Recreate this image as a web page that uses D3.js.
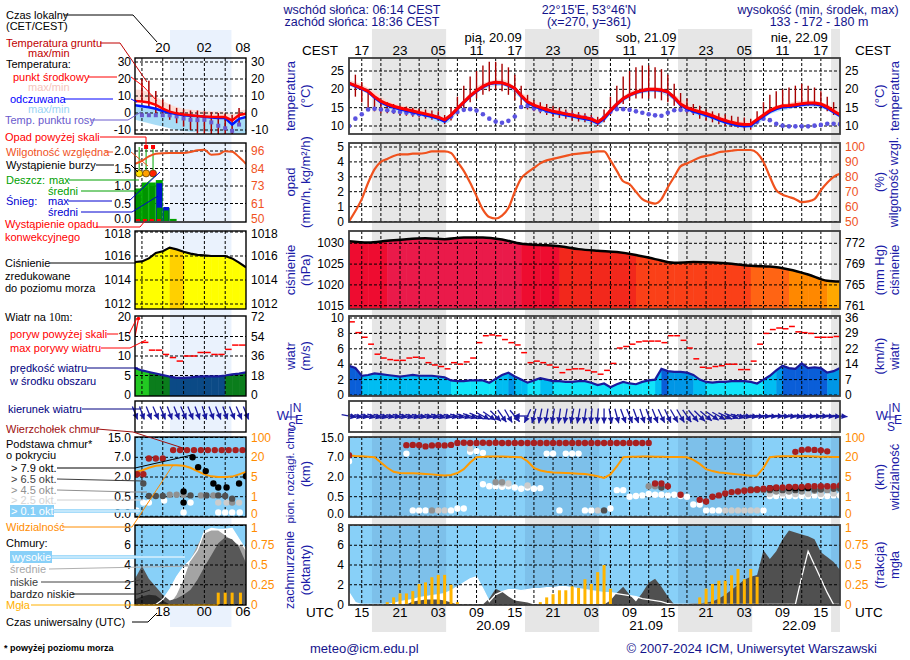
<!DOCTYPE html>
<html><head><meta charset="utf-8">
<script src="https://cdn.jsdelivr.net/npm/d3@7/dist/d3.min.js"></script>
<style>
html,body{margin:0;padding:0;background:#fff;}
svg{display:block;}
text{font-family:"Liberation Sans",Arial,Helvetica,sans-serif;}
</style></head>
<body><svg id="chart" width="910" height="660"></svg>
<script>
// ================= DATA (hour index 0 = 19.09 13:00 UTC, hourly) =================
const tempMid = [21.7,21.0,20.3,19.5,18.0,16.8,16.0,15.4,14.9,14.5, 14.1,13.7,13.3,12.9,12.4,11.7,13.0,14.8,16.5,18.2, 19.6,20.8,21.6,21.9,21.8,21.2,20.3,18.3,16.6,15.7, 15.1,14.5,14.0,13.7,13.3,13.0,12.6,12.3,11.9,11.1, 12.3,14.2,16.0,17.5,18.5,19.2,19.7,20.0,20.0,19.8, 19.3,17.8,16.0,15.0,14.4,13.9,13.4,12.8,12.1,11.5, 11.0,10.6,10.4,10.5,11.8,13.0,14.2,15.0,15.5,15.6, 15.8,16.1,16.3,16.3,16.0,15.2,14.1,13.1];
const tempFeels = [21.6,20.9,20.2,19.4,17.8,16.5,15.7,15.1,14.6,14.2, 13.8,13.4,13.0,12.6,12.1,11.3,12.8,14.7,16.4,18.1, 19.5,20.7,21.5,21.8,21.7,21.1,20.2,18.2,16.4,15.5, 14.8,14.2,13.7,13.4,13.0,12.7,12.3,12.0,11.6,10.8, 12.0,14.0,15.9,17.4,18.4,19.1,19.6,19.9,19.9,19.7, 19.2,17.7,15.8,14.7,14.0,13.5,13.0,12.4,11.7,11.1, 10.6,10.2,10.0,10.1,11.5,12.7,13.9,14.7,15.2,15.3, 15.5,15.8,16.0,16.0,15.7,14.9,13.8,12.8];
const dewPoint = [10.0,12.0,13.2,14.5,14.7,14.5,14.3,14.0,13.8,13.6, 13.4,13.2,13.0,12.7,12.3,11.6,12.6,13.8,14.4,14.6, 14.2,13.2,12.0,11.2,10.9,11.4,12.6,15.2,15.5,14.8, 14.4,14.1,13.8,13.6,13.3,13.0,12.6,12.3,11.9,11.1, 12.3,13.9,14.6,14.6,14.4,14.0,13.6,13.2,12.9,12.8, 13.6,14.3,14.4,14.3,14.0,13.6,13.1,12.5,11.9,11.3, 10.8,10.4,10.2,10.2,11.2,12.0,11.6,10.6,10.1,9.9, 9.9,9.9,9.9,10.1,10.3,10.6,10.6,10.5];
const groundMax = [25.5,24.0,22.0,20.0,18.0,17.0,16.5,16.0,15.5,15.3, 15.0,14.8,14.5,14.2,14.0,13.0,15.0,18.0,21.0,23.5, 25.0,26.5,27.5,27.5,27.0,26.0,24.0,21.0,18.5,17.0, 16.5,16.0,15.5,15.0,14.5,14.2,13.8,13.5,13.0,12.5, 14.5,18.0,21.0,23.5,25.0,26.0,26.5,26.5,26.0,25.5, 24.0,21.5,19.0,17.5,16.0,15.5,14.5,14.0,13.5,13.2, 12.8,12.5,12.3,12.0,14.0,16.5,18.5,19.5,20.0,20.5, 21.0,21.5,21.0,20.5,19.5,18.0,16.5,15.0];
const groundMin = [17.5,18.0,16.5,14.5,14.0,13.5,13.5,13.3,13.0,12.8, 12.5,12.3,12.0,11.7,11.5,10.5,11.5,13.0,15.0,16.5, 17.5,18.5,19.5,20.0,19.5,18.5,17.0,15.5,14.5,14.0, 13.5,13.0,12.5,12.2,12.0,11.5,11.2,11.0,10.5,10.0, 11.0,13.0,14.5,16.0,17.0,17.5,17.5,17.5,17.5,17.0, 16.5,15.5,14.5,13.5,13.0,12.0,11.5,11.0,10.5,10.0, 9.8,9.5,9.3,9.0,10.5,12.5,14.0,14.5,15.0,15.0, 15.5,15.5,15.5,15.5,15.0,14.0,13.0,12.0];
// 3-hourly series
const idx3 = [0,3,6,9,12,15,18,21,24,27,30,33,36,39,42,45,48,51,54,57,60,63,66,69,72,75,77];
const tempBandHi = [22.6,20.4,16.9,15.3,14.1,12.4,17.3,21.7,22.7,19.2,15.9,14.5,13.4,11.9,16.8,20.0,20.7,18.6,15.2,13.6,11.8,11.3,14.9,16.3,17.0,15.9,13.8];
const tempBandLo = [21.3,19.1,15.6,14.1,12.9,11.3,16.1,20.4,21.4,17.9,14.7,13.3,12.2,10.7,15.6,18.8,19.6,17.4,14.0,12.4,10.6,10.1,13.8,15.2,15.9,14.8,12.7];
const feelsBandLo = [20.9,18.7,15.0,13.5,12.3,10.6,15.8,20.1,21.0,17.5,14.1,12.7,11.6,10.1,15.2,18.5,19.3,17.0,13.3,11.7,9.9,9.4,13.2,14.6,15.3,14.2,12.1];
const pressure = [1030.5,1030.2,1030.6,1031.0,1031.2,1031.0,1031.4,1031.4,1030.9,1029.9,1029.6,1029.3,1028.6,1028.2,1027.9,1027.2,1026.2,1025.3,1025.5,1025.4,1025.1,1024.6,1024.4,1023.7,1022.5,1021.0,1020.8];
const relHum = [50,57,65,76,85,90,92,94,95,95, 95.5,95.5,96,97,97,97,96,90,84,76, 67,58,53,52,54,59,70,79,83,86, 89,91,92,93,94,95,95.5,96,96.5,97, 97,91,84,77,75,70,65,63,62,65, 73,80,87,89,91,93,94,95,96.5,97, 97.5,98,98,98,96,90,80,71,68,66.5, 65,63,63.5,65,71,76,80,82];
const windSpeed = [3.8,3.5,2.5,2.6,2.8,2.7,2.6,2.5,2.4,2.5, 2.6,2.5,2.5,2.5,2.4,2.3,1.9,1.8,1.8,1.9, 1.9,1.9,1.6,2.1,2.6,2.9,2.4,2.0,1.6,1.9, 2.2,2.0,1.8,1.8,1.7,1.7,1.8,1.8,1.6,1.3, 1.5,1.0,1.4,1.7,1.5,1.4,1.7,1.9,2.0,3.4, 3.1,3.0,3.0,2.9,2.6,2.0,1.7,1.6,1.7,1.7, 1.8,1.8,1.8,1.7,1.5,2.0,2.5,3.2,3.8,3.5, 3.4,4.1,3.5,3.6,3.5,2.9,3.1,3.5];
const windGust = [9.5,8.1,7.5,6.6,5.3,4.8,4.6,4.5,4.5,4.8, 4.9,4.8,4.2,3.9,3.7,3.4,4.2,4.0,4.3,4.8, 6.8,7.7,7.8,7.7,7.2,6.8,6.5,5.5,4.2,4.4, 4.2,3.9,3.6,2.9,3.3,3.4,3.4,3.2,3.0,2.7, 3.2,4.1,6.1,6.3,6.6,6.9,7.0,7.0,7.0,6.8, 7.7,7.7,7.1,6.1,4.7,3.6,3.5,3.7,3.8,4.0, 4.0,3.3,3.3,4.4,6.6,8.0,8.5,8.7,8.6,8.9, 8.2,8.1,8.0,7.5,7.5,7.5,7.6];
const windDir = [280,282,280,283,285,283,282,280,282,284, 283,282,281,283,285,283,282,284,286,288, 292,298,305,315,325,330,320,90,25,15, 12,10,10,8,10,12,10,8,5,5, 0,350,345,340,338,340,342,340,338,335, 335,330,330,325,320,315,310,305,300,295, 290,285,280,278,276,275,275,274,275,276, 278,277,276,275,274,275,276,275];
const visibility = [27,25,24,22,20,16,12,9,8,7.8, 7.8,7.6,7.3,7,6.5,6.2,6.5,8,11,16, 20,22,23,23.5,23,22.5,21.5,20.5,17,12, 10,9,8.5,8.3,8,7.8,7.5,7.3,6.5,5.5, 4.8,7,13,20,22,22.5,23,23,22.5,22, 21.5,21.5,21,20,18,15,11,9.5,8.5,8, 7.5,7,6.5,6,6.2,12,20,23,24,24.5, 24.5,24,24,23,22.5,22,21.5,21];
const cloudHigh = [1.2,0.2,0,0,0,0,0,0.1,0.3,0.4, 0.5,0.7,0.8,0.9,1.0,1.1,1.4,1.8,2.2,2.6, 2.8,1.6,0.3,1.0,1.3,1.5,1.5,1.4,1.5,1.6, 1.6,1.7,1.7,1.8,1.8,1.7,1.6,1.5,1.4,1.3, 1.2,1.2,1.1,1.0,0.9,0.8,0.6,0.5,0.4,0.3, 0.1,0,0,0,0,0,0,0,0,0, 0,0,0,0,0,0,0,0,0,0, 0,2.8,5.4,4.0,2.6,1.2,0,0];
const cloudLow = [0,0,0,0,0,0,0,0,0,0, 0.3,0.4,0.5,0.5,0.5,0.4,0.2,0,0,0, 0,0,0.6,1.6,1.3,0.8,0.4,0.3,0.2,0, 0,0,0,0,0,0,0,0,0,0, 0,0.4,1.2,1.8,1.0,0.3,1.2,2.2,2.6,1.8, 0.8,0,0,0.05,0.1,0.1,0.2,0.3,0.6,1.0, 1.5,2.0,2.5,2.8,3.0,5.5,4.6,5.4,6.6,7.5, 7.3,7.1,6.9,6.6,5.3,4.8,4.3,3.5];
const fogIdx = [6,7,8,9,10,11,12,13,14,15,16,17, 30,31,32,33,34,35,36,37,38,39,40,41, 55,56,57,58,59,60,61,62,63,64];
const fogVal = [0.03,0.09,0.14,0.14,0.17,0.26,0.28,0.345,0.375,0.375,0.25,0.03, 0.03,0.09,0.13,0.18,0.18,0.23,0.21,0.32,0.26,0.41,0.5,0.2, 0.09,0.2,0.26,0.3,0.3,0.37,0.45,0.32,0.45,0.35];
// cloud dots: [hour index, km]
const cloudTop = [[0,7.8],[9,11.9],[10,12.0],[11,11.9],[12,11.4],[13,11.8],[14,11.9],[15,11.8],[16,12.0],[17,12.8],[18,12.9],[19,12.8],[20,12.8],[21,12.9],[22,12.8],[23,12.9],[24,12.8],[25,12.8],[26,12.8],[27,12.8],[28,12.8],[29,12.8],[30,12.8],[31,12.8],[32,12.8],[33,12.8],[34,12.8],[35,12.8],[36,12.8],[37,12.8],[38,12.8],[39,12.8],[40,12.8],[41,12.8],[42,12.8],[43,12.8],[44,12.8],[45,12.8],[46,12.8],[47,12.8],[48,1.5],[49,1.5],[50,1.3],[52,0.65],[55,0.42],[56,0.38],[57,0.5],[58,0.6],[59,0.75],[60,0.85],[61,0.9],[62,0.95],[63,1.0],[64,1.05],[65,1.1],[66,1.15],[67,1.2],[68,1.2],[69,1.25],[70,1.25],[71,1.25],[72,1.3],[73,1.3],[74,1.3],[75,1.3],[76,1.3],[77,1.35],[70,9.2],[71,10.0],[72,10.2],[73,10.0],[74,9.8],[75,9.4]];
const cloudBase01 = [[0,6.0],[9,8.5],[19,9.2],[20,9.5],[21,8.8],[31,8.5],[32,8.5],[34,8.5],[35,8.5],[36,8.5],[21,1.45],[22,1.3],[23,1.3],[24,1.25],[25,1.3],[26,1.2],[27,1.1],[28,1.2],[29,1.1],[30,1.15],[42,1.0],[43,1.0],[44,0.5],[45,0.55],[46,0.6],[47,0.7],[48,0.65],[49,0.65],[50,0.6],[51,0.65],[52,0.55],[53,0.5],[54,0.3],[55,0.3],[66,0.55],[67,0.55],[68,0.6],[69,0.55],[70,0.55],[71,0.55],[72,0.55],[73,0.6],[74,0.55],[75,0.55],[76,0.6],[77,0.6],[10,0.15],[11,0.15],[12,0.15],[16,0.15],[17,0.2],[18,0.2],[33,0.15],[37,0.15],[38,0.15],[41,0.2],[56,0.15],[57,0.15],[58,0.15],[65,0.15]];
const cloudBase25 = [[19,10.5],[24,1.5],[25,1.5],[28,1.35],[14,0.15],[15,0.15],[39,0.15],[59,0.15],[60,0.15],[61,0.15],[62,0.15],[63,0.15],[64,0.15],[66,0.7],[68,0.75],[70,0.7],[72,0.7],[74,0.7],[76,0.75]];
const cloudBase45 = [[23,1.6],[24,1.6],[47,1.3],[48,1.3],[13,0.15],[62,1.0],[63,1.0],[64,1.0],[65,1.0],[67,0.9],[69,0.9],[71,0.9],[73,0.95],[75,1.0],[77,1.1]];
const cloudBase65 = [[40,0.15],[49,1.2],[63,1.05],[64,1.05],[65,1.05],[66,1.0],[68,1.0],[70,1.0],[73,1.05],[74,1.05],[76,1.1],[77,1.15]];
const cloudBase79 = [[66,1.15],[67,1.15],[69,1.15],[70,1.15],[71,1.15],[72,1.15]];
// axis labels
const cestLabels = ['17','23','05','11','17','23','05','11','17','23','05','11','17'];
const utcLabels  = ['15','21','03','09','15','21','03','09','15','21','03','09','15'];
const dayLabels  = ['pią, 20.09','sob, 21.09','nie, 22.09'];
const dateLabels = ['20.09','21.09','22.09'];
const tempTicks = [10,15,20,25];
const precTicks = [0,1,2,3,4,5];
const rhLabels = [50,60,70,80,90,100];
const presTicks = [1015,1020,1025,1030];
const presHgLabels = [761,765,769,772];
const windTicks = [0,2,4,6,8,10];
const windKmhLabels = [0,7,14,22,29,36];
const baseTicks = ['0.0','0.5','2.0','7.0','15.0'];
const visLabels = [0,1,5,20,100];
const coverTicks = [0,2,4,6,8];
const fogLabels = [0,0.25,0.5,0.75,1];
const sunsetUTC = 16.6, sunriseUTC = 4.233;

// ---- legend sample (mini panels), hours UTC 14..30 ----
const miniHours = [14,15,16,17,18,19,20,21,22,23,24,25,26,27,28,29,30];
const miniTemp  = [7.0,6.7,6.2,4.8,2.6,0.8,-0.2,-0.9,-1.3,-1.7,-2.0,-2.2,-2.3,-2.4,-4.4,-1.2,-0.5];
const miniFeels = [4.5,4.0,3.4,2.5,1.2,0.2,-0.6,-1.3,-1.6,-1.8,-2.2,-2.7,-2.9,-3.0,-6.8,-3.4,-2.3];
const miniTempHi = [13.8,13.5,12.0,9.5,7.0,5.0,3.5,2.5,2.0,1.5,1.2,1.0,1.0,0.8,-1.0,1.5,2.0];
const miniFeelsLo = [-4,-5,-6,-7,-8,-9,-10,-10.5,-11,-11,-11,-11.5,-11.5,-12,-12,-12,-12];
const miniDewHours = [15,16,17,18,19,20,21,22,23,24,25,26,27,28,29];
const miniDew = [-1.3,-1.3,-1.3,-1.3,-1.4,-2.0,-3.2,-4.0,-4.2,-4.0,-5.5,-7.5,-9.0,-10.5,-6.8];
const miniGroundMax = [20,19,13,8,5,3,2,1.5,1.5,1,0.5,0,-0.5,-1,3];
const miniGroundMin = [7,3,0,-2,-4,-6,-8,-10,-12,-12,-12.5,-12.5,-13,-13,-6];
const miniRH = [87.5,89.5,92.4,94.2,94.6,94.7,94.7,94.7,95.3,96.5,96.8,93.5,93.8,95.8,95.5,92,87.5];
const miniPrecHours = [14,15,16,17,18,19];
const miniRainMax = [0.93,1.1,1.1,1.17,0.37,0.06];
const miniSnowMax = [0,0,0,1.08,0.4,0];
const miniRainAvg = [0.75,0.95,1.0,0.38,0.3,0.04];
const miniStormHours = [14.6,15.6,16.6];
const miniStormLevel = [1,2,3];
const miniOverScaleHours = [15.6,16.6];
const miniConvHours = [14,15,16,17];
const miniPress = [1015.5,1015.55,1015.8,1016.25,1016.4,1016.7,1016.55,1016.35,1016.2,1016.1,1016.05,1016.0,1016.0,1016.0,1015.8,1015.45,1015.05];
const miniWind = [6.9,6.3,5.9,5.5,5.1,4.7,4.4,4.4,4.5,4.7,4.8,4.8,4.8,5.0,5.3,5.5,5.8];
const miniGustHours = [15,16,17,18,19,20,21,22,23,24,25,26,27,28,29];
const miniGust = [13.5,11.5,11.5,10.4,9.6,8.7,10.0,10.0,10.9,10.9,10.4,10.4,11.7,12.8,12.8];
const miniDir = [338,340,338,336,338,340,338,336,338,340,342,340,338,340,338,336,338];
const miniVis = [8.8,10,12,13.5,14,14,14,13.5,12,9.5,7,5.5,5,5,5.3,7,8.8];
const miniHigh = [0,0,0,0,0.5,1.5,2.8,3.8,4.5,5.5,7.4,7.7,7.6,7.6,7.7,6.6,5.5];
const miniMed  = [0,0,0,0,0,0,1.0,2.5,4.5,6.0,7.2,7.5,7.5,7.0,6.5,6.0,5.8];
const miniLow  = [2.6,3.9,2.6,1.8,1.0,0.4,0.6,1.0,1.5,2.5,3.8,5.0,6.2,6.8,6.6,5.8,4.2];
const miniVLow = [0.5,0.8,1.0,0.9,0.4,0,0,0,0,0,0,0,0,0,0,0,0];
const miniFogHours = [26,27,28,29.2];
const miniFog = [0.15,0.15,0.15,0.15];
const miniTop = [[14.3,2.7],[15.2,2.7],[16,6.7],[17,6.7],[18,6.7],[19.5,9.9],[20.5,9.9],[21.5,9.9],[22.5,9.9],[23.5,9.9],[24.5,9.9],[25.5,9.9],[26.5,9.9],[27.5,9.9],[28.5,9.9],[29.5,9.9]];
const miniB79 = [[22.3,7.0],[23.1,4.5],[24.2,3.5],[25.3,1.5],[26,1.2],[27.2,1.2],[29,1.5],[30,2.2],[21,0.9],[21,0.35]];
const miniB65 = [[15.2,1.5],[16,0.55],[17,0.55],[18,0.55],[22,0.6],[24.3,0.6],[26,0.6],[27,0.55],[28,0.45]];
const miniB45 = [[19,0.65],[20,0.65],[21,0.65],[23.5,0.6],[25.3,0.6],[28,0.35]];
const miniB25 = [[26,0.35],[27.2,0.35],[29,0.35]];
const miniB01 = [[14.2,0.15],[15.2,0.35],[16,0.35],[18.2,0.4],[22,0.35],[26,0.1],[27,0.1],[28,0.1],[29.1,0.1],[21,0.1]];
const miniNight = [19.05, 27.9];

// ================= DRAWING =================
const svg = d3.select('#chart');
const defs = svg.append('defs');
const NAVY = '#14148c', TITLE = '#1c1ca8';
const TS = 12; // tick label size
const X0 = 349, X1 = 840, MX0 = 135, MX1 = 246;
const x = d3.scaleLinear().domain([0, 77]).range([X0, X1]);
const mx = d3.scaleLinear().domain([14, 30]).range([MX0, MX1]);
const P = {temp:[58,134], prec:[143,222], pres:[231,309], wind:[316,396], dir:[401,432], base:[437,517], cover:[525,605]};

const yT  = d3.scaleLinear().domain([10,25]).range([126,71]);
const yP  = d3.scaleLinear().domain([0,5]).range([221.5,147]);
const yRH = d3.scaleLinear().domain([50,100]).range([221.5,147]);
const yPr = d3.scaleLinear().domain([1015,1030]).range([305.7,243.3]);
const yW  = d3.scaleLinear().domain([0,10]).range([395,318]);
const yB  = d3.scaleLinear().domain([0,0.5,2,7,15]).range([516.3,496.7,477,457.3,437.5]);
const yV  = d3.scaleLinear().domain([0,1,5,20,100]).range([516.3,496.7,477,457.3,437.5]);
const yC  = d3.scaleLinear().domain([0,8]).range([604.5,525.5]);
const yF  = d3.scaleLinear().domain([0,1]).range([604.5,525.5]);
const myT  = d3.scaleLinear().domain([-10,30]).range([130,62]);
const myP  = d3.scaleLinear().domain([0,2]).range([221,151]);
const myRH = d3.scaleLinear().domain([50,96]).range([221,151]);
const myPr = d3.scaleLinear().domain([1012,1018]).range([304,232]);
const myW  = d3.scaleLinear().domain([0,20]).range([395,317]);

const pressColor = d3.scaleThreshold().domain([1016.5,1020.5,1021.8,1023.9,1025.0,1027.6,1029.4,1030.55])
  .range(['#ffff00','#ffd000','#ffa800','#ff8800','#ff6414','#fa4018','#f2281c','#ee0c30','#ea1a4a']);
const windColor = d3.scaleThreshold().domain([2,2.9,3.4,4.4,4.95,6.2])
  .range(['#10e4fa','#00bdf2','#0096e6','#0a5ed8','#0b4a86','#0b7d1c','#22c822']);

function txt(g, t, xx, yy, o = {}) {
  const e = g.append('text').attr('x', xx).attr('y', yy).text(t)
    .attr('font-size', o.size || 12).attr('fill', o.c || '#000')
    .attr('text-anchor', o.anchor || 'start').attr('dominant-baseline', 'central');
  if (o.weight) e.attr('font-weight', o.weight);
  if (o.rot) e.attr('transform', `rotate(-90,${xx},${yy})`);
  return e;
}
function hline(g, x0, x1, yy) {
  g.append('line').attr('x1', x0).attr('x2', x1).attr('y1', yy).attr('y2', yy)
    .attr('stroke', '#000').attr('stroke-width', 1).attr('stroke-dasharray', '3,2');
}
function vline(g, xx, y0, y1) {
  g.append('line').attr('x1', xx).attr('x2', xx).attr('y1', y0).attr('y2', y1)
    .attr('stroke', '#000').attr('stroke-width', 1).attr('stroke-dasharray', '3,2');
}
function frame(x0, x1, r, col, sw) {
  svg.append('rect').attr('x', x0).attr('y', r[0]).attr('width', x1 - x0).attr('height', r[1] - r[0])
    .attr('fill', 'none').attr('stroke', col).attr('stroke-width', sw);
}
function clip(id, x0, x1, r) {
  defs.append('clipPath').attr('id', id).append('rect').attr('x', x0).attr('y', r[0]).attr('width', x1 - x0).attr('height', r[1] - r[0]);
  return svg.append('g').attr('clip-path', `url(#${id})`);
}
function arrow(g, cx, cy, dirFrom, len, col) {
  const th = (dirFrom + 180) * Math.PI / 180, dx = Math.sin(th), dy = -Math.cos(th);
  const x1 = cx - dx * len / 2, y1 = cy - dy * len / 2, x2 = cx + dx * len / 2, y2 = cy + dy * len / 2;
  g.append('line').attr('x1', x1).attr('y1', y1).attr('x2', x2).attr('y2', y2).attr('stroke', col).attr('stroke-width', 1.3);
  const nx = -dy, ny = dx;
  g.append('path').attr('d', `M${x2},${y2}L${x2 - dx * 6 + nx * 3},${y2 - dy * 6 + ny * 3}L${x2 - dx * 6 - nx * 3},${y2 - dy * 6 - ny * 3}Z`).attr('fill', col);
}
const idxArr = tempMid.map((d, i) => i);
const gridIdx = d3.range(2, 77, 3);
const miniGrid = [15, 18, 21, 24, 27];

// ---------- night shading ----------
const nightBands = [];
for (let k = 0; k < 4; k++) nightBands.push([sunsetUTC - 13 + 24 * k, sunriseUTC + 24 * (k + 1) - 13]);
nightBands.forEach(b => {
  const a = x(Math.max(0, b[0])), e = x(Math.min(77, b[1]));
  svg.append('rect').attr('x', a).attr('y', 29).attr('width', e - a).attr('height', 603).attr('fill', '#e6e6e6');
});
svg.append('rect').attr('x', mx(miniNight[0])).attr('y', 30).attr('width', mx(miniNight[1]) - mx(miniNight[0])).attr('height', 597).attr('fill', '#eaf2fd');

// ---------- header ----------
txt(svg, 'wschód słońca: 06:14 CEST', 362, 10, {anchor:'middle', c:NAVY, size:12.5});
txt(svg, 'zachód słońca: 18:36 CEST', 362, 22, {anchor:'middle', c:NAVY, size:12.5});
txt(svg, "22°15'E, 53°46'N", 589, 10, {anchor:'middle', c:NAVY, size:12.5});
txt(svg, '(x=270,  y=361)', 589, 22, {anchor:'middle', c:NAVY, size:12.5});
txt(svg, 'wysokość (min, środek, max)', 818, 10, {anchor:'middle', c:NAVY, size:12.5});
txt(svg, '133 - 172 - 180 m', 819, 22, {anchor:'middle', c:NAVY, size:12.5});
dayLabels.forEach((d, k) => txt(svg, d, x(22.6 + 24 * k), 37, {anchor:'middle', size:13}));
txt(svg, 'CEST', 302, 50, {size:13.5}); txt(svg, 'CEST', 855, 50, {size:13.5});
cestLabels.forEach((d, k) => txt(svg, d, x(2 + 6 * k), 50, {anchor:'middle', size:13.5}));
txt(svg, 'UTC', 306, 612, {size:13.5}); txt(svg, 'UTC', 855, 612, {size:13.5});
utcLabels.forEach((d, k) => txt(svg, d, x(2 + 6 * k), 612, {anchor:'middle', size:13.5}));
dateLabels.forEach((d, k) => txt(svg, d, x(22.6 + 24 * k), 625, {anchor:'middle', size:13.5}));
txt(svg, '20', mx(18), 47, {anchor:'middle', size:13.5});
txt(svg, '02', mx(24), 47, {anchor:'middle', size:13.5});
txt(svg, '08', mx(30) - 3, 47, {anchor:'middle', size:13.5});
txt(svg, '18', mx(18), 611, {anchor:'middle', size:13.5});
txt(svg, '00', mx(24), 611, {anchor:'middle', size:13.5});
txt(svg, '06', mx(30) - 3, 611, {anchor:'middle', size:13.5});

// ---------- MAIN: temperature ----------
{
  const g = clip('cT', X0, X1, P.temp);
  g.append('path').datum(idx3).attr('fill', '#b8e2f8')
    .attr('d', d3.area().x(i => x(i)).y0((i, k) => yT(feelsBandLo[k])).y1((i, k) => yT(tempBandLo[k])).curve(d3.curveMonotoneX));
  g.append('path').datum(idx3).attr('fill', '#fcd6ce')
    .attr('d', d3.area().x(i => x(i)).y0((i, k) => yT(tempBandLo[k])).y1((i, k) => yT(tempBandHi[k])).curve(d3.curveMonotoneX));
  tempTicks.forEach(t => hline(g, X0, X1, yT(t)));
  gridIdx.forEach(i => vline(g, x(i), P.temp[0], P.temp[1]));
  idxArr.forEach(i => g.append('line').attr('x1', x(i)).attr('x2', x(i)).attr('y1', yT(groundMin[i])).attr('y2', yT(groundMax[i])).attr('stroke', '#a80000').attr('stroke-width', 1.4));
  idxArr.forEach(i => g.append('circle').attr('cx', x(i)).attr('cy', yT(dewPoint[i])).attr('r', 2.3).attr('fill', '#5a52e0'));
  g.append('path').datum(tempFeels).attr('fill', 'none').attr('stroke', '#0018ff').attr('stroke-width', 3)
    .attr('d', d3.line().x((d, i) => x(i)).y(d => yT(d)));
  g.append('path').datum(tempMid).attr('fill', 'none').attr('stroke', '#ff0000').attr('stroke-width', 3)
    .attr('d', d3.line().x((d, i) => x(i)).y(d => yT(d)));
  tempTicks.forEach(t => { txt(svg, t, 344, yT(t), {anchor:'end', size:TS}); txt(svg, t, 845, yT(t), {size:TS}); });
}
// ---------- MAIN: precipitation / RH ----------
{
  const g = clip('cP', X0, X1, P.prec);
  precTicks.forEach(t => hline(g, X0, X1, yP(t)));
  gridIdx.forEach(i => vline(g, x(i), P.prec[0], P.prec[1]));
  g.append('path').datum(relHum).attr('fill', 'none').attr('stroke', '#f0521e').attr('stroke-width', 2.2)
    .attr('d', d3.line().x((d, i) => x(i)).y(d => yRH(d)).curve(d3.curveMonotoneX));
  precTicks.forEach(t => txt(svg, t, 344, yP(t), {anchor:'end', size:TS}));
  rhLabels.forEach(t => txt(svg, t, 845, yRH(t), {size:TS, c:'#f0521e'}));
}
// ---------- MAIN: pressure ----------
{
  defs.append('clipPath').attr('id', 'cPrA').append('path').datum(pressure)
    .attr('d', d3.area().x((d, k) => x(idx3[k])).y0(P.pres[1] + 2).y1(d => yPr(d)).curve(d3.curveMonotoneX));
  const g0 = clip('cPr', X0, X1, P.pres);
  const g = g0.append('g').attr('clip-path', 'url(#cPrA)');
  pressure.forEach((p, k) => {
    const a = x(idx3[k]), e = k < pressure.length - 1 ? x(idx3[k + 1]) : X1;
    g.append('rect').attr('x', a).attr('y', P.pres[0]).attr('width', e - a + 0.5).attr('height', P.pres[1] - P.pres[0]).attr('fill', pressColor(p));
  });
  presTicks.forEach(t => hline(g0, X0, X1, yPr(t)));
  gridIdx.forEach(i => vline(g0, x(i), P.pres[0], P.pres[1]));
  g0.append('path').datum(pressure).attr('fill', 'none').attr('stroke', '#000').attr('stroke-width', 2.5)
    .attr('d', d3.line().x((d, k) => x(idx3[k])).y(d => yPr(d)).curve(d3.curveMonotoneX));
  presTicks.forEach((t, k) => { txt(svg, t, 344, yPr(t), {anchor:'end', size:TS}); txt(svg, presHgLabels[k], 845, yPr(t), {size:TS}); });
}
// ---------- MAIN: wind ----------
{
  defs.append('clipPath').attr('id', 'cWA').append('path').datum(windSpeed)
    .attr('d', d3.area().x((d, i) => x(i)).y0(yW(0) + 2).y1(d => yW(d)));
  const g0 = clip('cW', X0, X1, P.wind);
  const g = g0.append('g').attr('clip-path', 'url(#cWA)');
  windSpeed.forEach((v, i) => {
    const a = x(i), e = i < 77 ? x(i + 1) : X1;
    g.append('rect').attr('x', a).attr('y', P.wind[0]).attr('width', e - a + 0.5).attr('height', P.wind[1] - P.wind[0]).attr('fill', windColor(v));
  });
  windTicks.forEach(t => hline(g0, X0, X1, yW(t)));
  gridIdx.forEach(i => vline(g0, x(i), P.wind[0], P.wind[1]));
  g0.append('path').datum(windSpeed).attr('fill', 'none').attr('stroke', '#1a1a9c').attr('stroke-width', 2.2)
    .attr('d', d3.line().x((d, i) => x(i)).y(d => yW(d)));
  windGust.forEach((v, i) => g0.append('line').attr('x1', x(i)).attr('x2', x(i + 1) - 0.5).attr('y1', yW(v)).attr('y2', yW(v)).attr('stroke', '#ff0000').attr('stroke-width', 1.5));
  windTicks.forEach((t, k) => { txt(svg, t, 344, yW(t), {anchor:'end', size:TS}); txt(svg, windKmhLabels[k], 845, yW(t), {size:TS}); });
}
// ---------- MAIN: wind direction ----------
{
  gridIdx.forEach(i => vline(svg, x(i), P.dir[0], P.dir[1]));
  const g = svg.append('g');
  windDir.forEach((d, i) => arrow(g, x(i), 416, d, 15, '#1a1aa0'));
}
// ---------- MAIN: cloud base / visibility ----------
{
  const g = clip('cB', X0, X1, P.base);
  g.append('rect').attr('x', X0).attr('y', P.base[0]).attr('width', X1 - X0).attr('height', P.base[1] - P.base[0]).attr('fill', '#88d0f8');
  nightBands.forEach(b => g.append('rect').attr('x', x(Math.max(0, b[0]))).attr('y', P.base[0]).attr('width', x(Math.min(77, b[1])) - x(Math.max(0, b[0]))).attr('height', 80).attr('fill', '#7dc0ea'));
  baseTicks.forEach(t => hline(g, X0, X1, yB(+t)));
  gridIdx.forEach(i => vline(g, x(i), P.base[0], P.base[1]));
  g.append('path').datum(visibility).attr('fill', 'none').attr('stroke', '#ff9a00').attr('stroke-width', 2)
    .attr('d', d3.line().x((d, i) => x(i)).y(d => yV(d)));
  [[cloudBase01, '#ffffff'], [cloudBase25, '#cccccc'], [cloudBase45, '#909090'], [cloudBase65, '#505050'], [cloudBase79, '#000000'], [cloudTop, '#a82020']]
    .forEach(([arr, col]) => arr.forEach(p => g.append('circle').attr('cx', x(p[0])).attr('cy', yB(p[1])).attr('r', 3.2).attr('fill', col)));
  baseTicks.forEach((t, k) => { txt(svg, t, 344, yB(+t) - (k === 0 ? 2 : 0), {anchor:'end', size:TS}); txt(svg, visLabels[k], 845, yV(visLabels[k]) - (k === 0 ? 2 : 0), {size:TS, c:'#ff8c00'}); });
}
// ---------- MAIN: cloud cover / fog ----------
{
  const g = clip('cC', X0, X1, P.cover);
  g.append('rect').attr('x', X0).attr('y', P.cover[0]).attr('width', X1 - X0).attr('height', P.cover[1] - P.cover[0]).attr('fill', '#88d0f8');
  nightBands.forEach(b => g.append('rect').attr('x', x(Math.max(0, b[0]))).attr('y', P.cover[0]).attr('width', x(Math.min(77, b[1])) - x(Math.max(0, b[0]))).attr('height', 80).attr('fill', '#7dc0ea'));
  const ar = arr => d3.area().x((d, i) => x(i)).y0(yC(0)).y1(d => yC(d))(arr);
  g.append('path').attr('d', ar(cloudHigh)).attr('fill', '#ffffff');
  g.append('path').attr('d', ar(cloudLow)).attr('fill', '#505050');
  g.append('path').datum(cloudHigh).attr('fill', 'none').attr('stroke', '#ffffff').attr('stroke-width', 1.3)
    .attr('d', d3.line().x((d, i) => x(i)).y(d => yC(d)));
  coverTicks.forEach(t => hline(g, X0, X1, yC(t)));
  gridIdx.forEach(i => vline(g, x(i), P.cover[0], P.cover[1]));
  fogIdx.forEach((i, k) => g.append('rect').attr('x', x(i) - 1.5).attr('y', yF(fogVal[k])).attr('width', 3).attr('height', yF(0) - yF(fogVal[k])).attr('fill', '#ffb400'));
  coverTicks.forEach((t, k) => { txt(svg, t, 344, yC(t) + (k === 4 ? 2 : 0), {anchor:'end', size:TS}); txt(svg, fogLabels[k], 845, yF(fogLabels[k]) + (k === 4 ? 2 : 0), {size:TS, c:'#ff8c00'}); });
}
Object.values(P).forEach(r => frame(X0, X1, r, '#3c3c3c', 1.8));

// ---------- MINI (legend) panels ----------
{
  const g = clip('mT', MX0, MX1, P.temp);
  g.append('path').datum(miniHours).attr('fill', '#a8dcf6')
    .attr('d', d3.area().x(h => mx(h)).y0((h, k) => myT(miniFeelsLo[k])).y1((h, k) => myT(miniFeels[k])));
  g.append('path').datum(miniHours).attr('fill', '#fcdcd4')
    .attr('d', d3.area().x(h => mx(h)).y0((h, k) => myT(miniTemp[k])).y1((h, k) => myT(miniTempHi[k])));
  [30, 20, 10, 0, -10].forEach(t => hline(g, MX0, MX1, myT(t)));
  miniGrid.forEach(h => vline(g, mx(h), P.temp[0], P.temp[1]));
  miniDewHours.forEach((h, k) => g.append('line').attr('x1', mx(h)).attr('x2', mx(h)).attr('y1', myT(miniGroundMin[k])).attr('y2', myT(miniGroundMax[k])).attr('stroke', '#a80000').attr('stroke-width', 1.5));
  miniDewHours.forEach((h, k) => g.append('rect').attr('x', mx(h) - 2).attr('y', myT(miniDew[k]) - 2).attr('width', 4).attr('height', 4).attr('fill', '#6a5acd'));
  g.append('path').datum(miniFeels).attr('fill', 'none').attr('stroke', '#0018ff').attr('stroke-width', 2.5).attr('d', d3.line().x((d, k) => mx(miniHours[k])).y(d => myT(d)));
  g.append('path').datum(miniTemp).attr('fill', 'none').attr('stroke', '#ff0000').attr('stroke-width', 2.5).attr('d', d3.line().x((d, k) => mx(miniHours[k])).y(d => myT(d)));
  [30, 20, 10, 0, -10].forEach(t => { txt(svg, t, 131, myT(t), {anchor:'end', size:TS}); txt(svg, t, 251, myT(t), {size:TS}); });
}
{
  const g = clip('mP', MX0, MX1, P.prec);
  [0.5, 1, 1.5, 2].forEach(t => hline(g, MX0, MX1, myP(t)));
  miniGrid.forEach(h => vline(g, mx(h), P.prec[0], P.prec[1]));
  miniPrecHours.forEach((h, k) => {
    g.append('rect').attr('x', mx(h)).attr('y', myP(miniRainMax[k])).attr('width', mx(h + 1) - mx(h)).attr('height', myP(0) - myP(miniRainMax[k])).attr('fill', '#00a800');
    if (miniSnowMax[k] > 0) g.append('rect').attr('x', mx(h) + 0.5).attr('y', myP(miniSnowMax[k])).attr('width', mx(h + 1) - mx(h) - 1).attr('height', myP(0) - myP(miniSnowMax[k])).attr('fill', '#0014d0');
    g.append('rect').attr('x', mx(h) + 1).attr('y', myP(miniRainAvg[k])).attr('width', mx(h + 1) - mx(h) - 2).attr('height', myP(0) - myP(miniRainAvg[k])).attr('fill', '#009400');
  });
  miniStormHours.forEach((h, k) => {
    g.append('line').attr('x1', mx(h)).attr('x2', mx(h)).attr('y1', myP(1.36)).attr('y2', P.prec[0] + 4).attr('stroke', '#00a800').attr('stroke-width', 1);
    g.append('circle').attr('cx', mx(h)).attr('cy', myP(1.36)).attr('r', 3.5).attr('fill', ['#ffe000', '#ffa000', '#ff2000'][miniStormLevel[k] - 1]).attr('stroke', '#604000').attr('stroke-width', 0.8);
  });
  miniOverScaleHours.forEach(h => g.append('rect').attr('x', mx(h) - 2).attr('y', P.prec[0] + 2).attr('width', 4).attr('height', 4).attr('fill', '#ff0000'));
  miniConvHours.forEach(h => g.append('line').attr('x1', mx(h) + 1).attr('x2', mx(h) + 5).attr('y1', myP(0) - 1).attr('y2', myP(0) - 1).attr('stroke', '#ff0000').attr('stroke-width', 2));
  g.append('path').datum(miniRH).attr('fill', 'none').attr('stroke', '#f0521e').attr('stroke-width', 2).attr('d', d3.line().x((d, k) => mx(miniHours[k])).y(d => myRH(d)).curve(d3.curveMonotoneX));
  ['0.0', '0.5', '1.0', '1.5', '2.0'].forEach((t, k) => txt(svg, t, 131, myP(+t) - (k === 0 ? 2 : 0), {anchor:'end', size:TS}));
  [50, 61, 73, 84, 96].forEach((t, k) => txt(svg, t, 251, myP(k * 0.5) - (k === 0 ? 2 : 0), {size:TS, c:'#f0521e'}));
}
{
  defs.append('clipPath').attr('id', 'mPrA').append('path').datum(miniPress)
    .attr('d', d3.area().x((d, k) => mx(miniHours[k])).y0(P.pres[1] + 2).y1(d => myPr(d)));
  const g0 = clip('mPr', MX0, MX1, P.pres);
  const g = g0.append('g').attr('clip-path', 'url(#mPrA)');
  miniPress.forEach((p, k) => {
    const a = mx(miniHours[k]), e = k < 16 ? mx(miniHours[k + 1]) : MX1;
    g.append('rect').attr('x', a).attr('y', P.pres[0]).attr('width', e - a + 0.5).attr('height', 80).attr('fill', pressColor(p));
  });
  [1018, 1016, 1014, 1012].forEach(t => hline(g0, MX0, MX1, myPr(t)));
  miniGrid.forEach(h => vline(g0, mx(h), P.pres[0], P.pres[1]));
  g0.append('path').datum(miniPress).attr('fill', 'none').attr('stroke', '#000').attr('stroke-width', 2.2).attr('d', d3.line().x((d, k) => mx(miniHours[k])).y(d => myPr(d)));
  [1018, 1016, 1014, 1012].forEach((t, k) => { const dy = k === 0 ? 1.5 : 0; txt(svg, t, 131, myPr(t) + dy, {anchor:'end', size:TS}); txt(svg, t, 251, myPr(t) + dy, {size:TS}); });
}
{
  defs.append('clipPath').attr('id', 'mWA').append('path').datum(miniWind)
    .attr('d', d3.area().x((d, k) => mx(miniHours[k])).y0(myW(0) + 2).y1(d => myW(d)));
  const g0 = clip('mW', MX0, MX1, P.wind);
  const g = g0.append('g').attr('clip-path', 'url(#mWA)');
  miniWind.forEach((v, k) => {
    const a = mx(miniHours[k]), e = k < 16 ? mx(miniHours[k + 1]) : MX1;
    g.append('rect').attr('x', a).attr('y', P.wind[0]).attr('width', e - a + 0.5).attr('height', 80).attr('fill', windColor(v));
  });
  [5, 10, 15].forEach(t => hline(g0, MX0, MX1, myW(t)));
  miniGrid.forEach(h => vline(g0, mx(h), P.wind[0], P.wind[1]));
  g0.append('path').datum(miniWind).attr('fill', 'none').attr('stroke', '#1a1a9c').attr('stroke-width', 2.2).attr('d', d3.line().x((d, k) => mx(miniHours[k])).y(d => myW(d)));
  miniGustHours.forEach((h, k) => g0.append('line').attr('x1', mx(h)).attr('x2', mx(h + 1) - 0.5).attr('y1', myW(miniGust[k])).attr('y2', myW(miniGust[k])).attr('stroke', '#ff0000').attr('stroke-width', 1.5));
  g0.append('line').attr('x1', mx(14)).attr('y1', myW(15)).attr('x2', mx(14.5)).attr('y2', myW(19.6)).attr('stroke', '#ff0000').attr('stroke-width', 1.2);
  g0.append('circle').attr('cx', mx(14.5)).attr('cy', myW(19.6)).attr('r', 1.8).attr('fill', '#ff0000');
  [0, 5, 10, 15, 20].forEach((t, k) => { txt(svg, t, 131, myW(t), {anchor:'end', size:TS}); txt(svg, [0, 18, 36, 54, 72][k], 251, myW(t), {size:TS}); });
}
{
  miniGrid.forEach(h => vline(svg, mx(h), P.dir[0], P.dir[1]));
  const g = svg.append('g');
  miniDir.forEach((d, k) => arrow(g, mx(miniHours[k]), 413, d, 14, '#1a1aa0'));
}
{
  const g = clip('mB', MX0, MX1, P.base);
  g.append('rect').attr('x', MX0).attr('y', P.base[0]).attr('width', MX1 - MX0).attr('height', 80).attr('fill', '#88d0f8');
  baseTicks.forEach(t => hline(g, MX0, MX1, yB(+t)));
  miniGrid.forEach(h => vline(g, mx(h), P.base[0], P.base[1]));
  g.append('path').datum(miniVis).attr('fill', 'none').attr('stroke', '#ff9a00').attr('stroke-width', 2).attr('d', d3.line().x((d, k) => mx(miniHours[k])).y(d => yV(d)));
  [[miniB01, '#ffffff'], [miniB25, '#cccccc'], [miniB45, '#909090'], [miniB65, '#505050'], [miniB79, '#000000'], [miniTop, '#a82020']]
    .forEach(([arr, col]) => arr.forEach(p => g.append('circle').attr('cx', mx(p[0])).attr('cy', yB(p[1])).attr('r', 3.2).attr('fill', col)));
  baseTicks.forEach((t, k) => { txt(svg, t, 131, yB(+t) - (k === 0 ? 2 : 0), {anchor:'end', size:TS}); txt(svg, visLabels[k], 251, yV(visLabels[k]) - (k === 0 ? 2 : 0), {size:TS, c:'#ff8c00'}); });
}
{
  const g = clip('mC', MX0, MX1, P.cover);
  g.append('rect').attr('x', MX0).attr('y', P.cover[0]).attr('width', MX1 - MX0).attr('height', 80).attr('fill', '#88d0f8');
  const ar = arr => d3.area().x((d, k) => mx(miniHours[k])).y0(yC(0)).y1(d => yC(d))(arr);
  g.append('path').attr('d', ar(miniHigh)).attr('fill', '#ffffff');
  g.append('path').attr('d', ar(miniMed)).attr('fill', '#a4a4a4');
  g.append('path').attr('d', ar(miniLow)).attr('fill', '#585858');
  g.append('path').attr('d', ar(miniVLow)).attr('fill', '#2a2a2a');
  g.append('path').datum(miniHigh).attr('fill', 'none').attr('stroke', '#fff').attr('stroke-width', 1.2).attr('d', d3.line().x((d, k) => mx(miniHours[k])).y(d => yC(d)));
  coverTicks.forEach(t => hline(g, MX0, MX1, yC(t)));
  miniGrid.forEach(h => vline(g, mx(h), P.cover[0], P.cover[1]));
  miniFogHours.forEach((h, k) => g.append('rect').attr('x', mx(h) - 1.5).attr('y', yF(miniFog[k])).attr('width', 3).attr('height', yF(0) - yF(miniFog[k])).attr('fill', '#ffb400'));
  coverTicks.forEach((t, k) => { txt(svg, t, 131, yC(t) + (k === 4 ? 2 : 0), {anchor:'end', size:TS}); txt(svg, fogLabels[k], 251, yF(fogLabels[k]) + (k === 4 ? 2 : 0), {size:TS, c:'#ff8c00'}); });
}
Object.values(P).forEach(r => frame(MX0, MX1, r, '#000', 1.4));

// ---------- axis titles ----------
const leftTitles = [['temperatura', '(°C)', 96, 13], ['opad', '(mm/h, kg/m²/h)', 182, 13], ['ciśnienie', '(hPa)', 270, 13], ['wiatr', '(m/s)', 356, 13], ['pion. rozciągł. chm.', '(km)', 474, 11.5], ['zachmurzenie', '(oktanty)', 570, 12.5]];
leftTitles.forEach(([a, b, yc, s]) => { txt(svg, a, 290, yc, {anchor:'middle', rot:true, c:TITLE, size:s}); txt(svg, b, 305, yc, {anchor:'middle', rot:true, c:TITLE, size:13}); });
const rightTitles = [['(°C)', 'temperatura', 96, 13], ['(%)', 'wilgotność wzgl.', 182, 12.5], ['(mm Hg)', 'ciśnienie', 270, 13], ['(km/h)', 'wiatr', 356, 13], ['(km)', 'widzialność', 477, 13], ['(frakcja)', 'mgła', 565, 13]];
rightTitles.forEach(([a, b, yc, s]) => { txt(svg, a, 879, yc, {anchor:'middle', rot:true, c:TITLE, size:13}); txt(svg, b, 894, yc, {anchor:'middle', rot:true, c:TITLE, size:s}); });
function compass(cx, cy) {
  svg.append('line').attr('x1', cx + 3).attr('x2', cx + 3).attr('y1', cy - 12).attr('y2', cy + 4).attr('stroke', TITLE);
  svg.append('line').attr('x1', cx - 2).attr('x2', cx + 10).attr('y1', cy + 1).attr('y2', cy + 1).attr('stroke', TITLE);
  txt(svg, 'N', cx + 9, cy - 8, {anchor:'middle', c:TITLE, size:12});
  txt(svg, 'W', cx - 5, cy - 1, {anchor:'middle', c:TITLE, size:13});
  txt(svg, 'E', cx + 11, cy + 4, {anchor:'middle', c:TITLE, size:12});
  txt(svg, 'S', cx + 4, cy + 11, {anchor:'middle', c:TITLE, size:12});
}
compass(887, 416); compass(288, 416);

// ---------- legend texts ----------
const legendTexts = [
  ['Czas lokalny', 6, 15, '#000'], ['(CET/CEST)', 6, 26, '#000'],
  ['Temperatura gruntu', 6, 43, '#c00000'], ['max/min', 28, 53, '#c00000'],
  ['Temperatura:', 6, 64, '#000'], ['punkt środkowy', 13, 77, '#ff0000'], ['max/min', 28, 87, '#f6c4bc'],
  ['odczuwana', 10, 99, '#0000ff'], ['max/min', 28, 109, '#98d4f4'], ['Temp. punktu rosy', 5, 120, '#6a5acd'],
  ['Opad powyżej skali', 5, 137, '#ff0000'], ['Wilgotność względna', 6, 152, '#f0521e'], ['Wystąpienie burzy', 6, 165, '#000'],
  ['Deszcz:', 6, 180, '#00a000'], ['max', 49, 180, '#00a000'], ['średni', 48, 191, '#00a000'],
  ['Śnieg:', 6, 201, '#0000d0'], ['max', 48, 201, '#0000d0'], ['średni', 48, 212, '#0000d0'],
  ['Wystąpienie opadu', 5, 224, '#ff0000'], ['konwekcyjnego', 5, 237, '#ff0000'],
  ['Ciśnienie', 5, 263, '#000'], ['zredukowane', 5, 276, '#000'], ['do poziomu morza', 5, 288, '#000'],
  ['poryw powyżej skali', 10, 334, '#ff0000'], ['max porywy wiatru', 10, 348, '#ff0000'],
  ['prędkość wiatru', 10, 368, '#000080'], ['w środku obszaru', 10, 381, '#000080'], ['kierunek wiatru', 8, 409, '#000080'],
  ['Wierzchołek chmur', 6, 429, '#a01010'], ['Podstawa chmur*', 6, 444, '#000'], ['o pokryciu', 6, 455, '#000'],
  ['> 7.9 okt.', 11, 468, '#000'], ['> 6.5 okt.', 11, 479, '#404040'], ['> 4.5 okt.', 11, 490, '#909090'], ['> 2.5 okt.', 11, 500, '#d4d4d4'],
  ['Widzialność', 6, 527, '#ff8c00'], ['Chmury:', 6, 543, '#000'],
  ['średnie', 10, 569, '#a8a8a8'], ['niskie', 10, 582, '#404040'], ['bardzo niskie', 10, 594, '#202020'],
  ['Mgła', 6, 605, '#ffb000'], ['Czas uniwersalny (UTC)', 6, 622, '#000']
];
svg.append('rect').attr('x', 10).attr('y', 505).attr('width', 44).attr('height', 12).attr('fill', '#88d0f8');
svg.append('rect').attr('x', 10).attr('y', 551).attr('width', 42).attr('height', 12).attr('fill', '#88d0f8');
const leaders = [
  ['#000', [[64,15],[133,15],[157,42]]], ['#c00000', [[100,43],[120,43],[147,82]]],
  ['#ff0000', [[88,77],[117,77]]], ['#ff0000', [[131,77],[143,86],[157,101]]],
  ['#0000ff', [[64,99],[113,99]]], ['#0000ff', [[131,99],[137,102]]], ['#6a5acd', [[91,120],[128,120],[141,112]]],
  ['#ff0000', [[100,137],[146,137],[146,146]]], ['#f0521e', [[105,152],[113,152]]], ['#f0521e', [[131,152],[148,166]]],
  ['#000', [[96,165],[114,165]]], ['#000', [[131,165],[138,172]]],
  ['#00a000', [[69,180],[139,180]]], ['#00a000', [[81,191],[138,191],[155,176]]],
  ['#0000d0', [[68,201],[112,201]]], ['#0000d0', [[129,201],[160,172]]], ['#0000d0', [[81,212],[132,212],[158,196]]],
  ['#ff0000', [[96,227],[140,227],[145,221]]], ['#000', [[50,263],[136,263]]],
  ['#ff0000', [[107,334],[118,334]]], ['#ff0000', [[129,334],[137,318]]], ['#ff0000', [[101,348],[130,348],[146,340]]],
  ['#000080', [[87,368],[138,368]]], ['#000080', [[82,409],[140,409]]],
  ['#a01010', [[97,429],[133,432],[183,448]]], ['#000', [[57,468],[135,468],[192,455]]],
  ['#404040', [[57,479],[143,481]]], ['#909090', [[57,490],[133,492],[147,492]]], ['#d0d0d0', [[57,500],[132,500],[143,500]]],
  ['#ff8c00', [[62,527],[132,527],[173,465]]], ['#b0b0b0', [[49,569],[192,566]]],
  ['#404040', [[41,582],[130,582],[140,580]]], ['#202020', [[72,594],[138,594],[150,590]]],
  ['#ffb000', [[31,605],[218,605],[218,597]]], ['#000', [[132,622],[148,622],[157,613]]]
];
leaders.forEach(([c, p]) => svg.append('path').attr('d', d3.line()(p)).attr('fill', 'none').attr('stroke', c).attr('stroke-width', 1));
[[[54,511],[140,511]], [[52,557],[185,557]]].forEach(p => {
  svg.append('path').attr('d', d3.line()(p)).attr('stroke', '#88d0f8').attr('stroke-width', 3.5).attr('fill', 'none');
  svg.append('path').attr('d', d3.line()(p)).attr('stroke', '#fff').attr('stroke-width', 1).attr('fill', 'none');
});
legendTexts.forEach(([t, xx, yy, c]) => txt(svg, t, xx, yy, {c, size:11}));
txt(svg, '> 0.1 okt.', 11, 511, {c:'#fff', size:11});
txt(svg, 'wysokie', 12, 557, {c:'#fff', size:11});
const wt = txt(svg, 'Wiatr na ', 5, 317, {size:11});
wt.append('tspan').attr('font-family', '"Liberation Serif",serif').attr('font-size', 11.5).text('10m');
wt.append('tspan').text(':');

// ---------- footer ----------
txt(svg, '* powyżej poziomu morza', 4, 648, {size:9, weight:'bold'});
txt(svg, 'meteo@icm.edu.pl', 310, 648, {c:NAVY, size:13});
txt(svg, '© 2007-2024 ICM, Uniwersytet Warszawski', 877, 648, {c:NAVY, size:13, anchor:'end'});
</script></body></html>
